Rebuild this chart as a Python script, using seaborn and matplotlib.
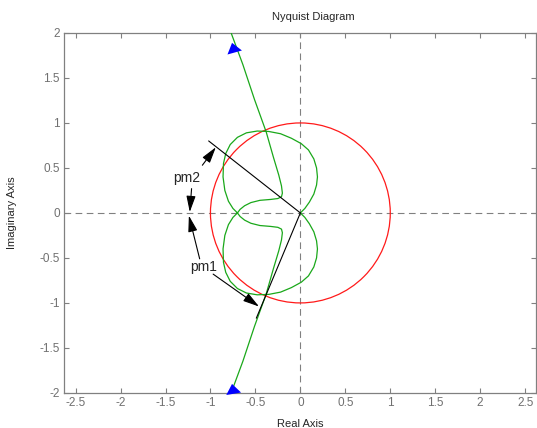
import matplotlib
matplotlib.use("Agg")
import matplotlib.pyplot as plt
from matplotlib.patches import Circle
import seaborn as sns
import pandas as pd

# ---- data ----
# one half of the Nyquist curve (from the top, through the hook and lower lobe, to the origin)
half_re = [-0.80, -0.77, -0.64, -0.51, -0.38, -0.30, -0.24, -0.21, -0.20, -0.21, -0.25,
           -0.33, -0.45, -0.55, -0.62, -0.67, -0.70, -0.75, -0.80, -0.84, -0.86,
           -0.855, -0.83, -0.78, -0.70, -0.60, -0.48, -0.35, -0.22, -0.10, 0.01,
           0.09, 0.15, 0.18, 0.19, 0.18, 0.15, 0.10, 0.05, 0.0]
half_im = [2.10, 2.00, 1.65, 1.26, 0.90, 0.62, 0.42, 0.30, 0.22, 0.18, 0.16,
           0.15, 0.14, 0.115, 0.08, 0.04, 0.0, -0.05, -0.13, -0.25, -0.40,
           -0.55, -0.66, -0.76, -0.84, -0.89, -0.91, -0.905, -0.88, -0.83, -0.77,
           -0.70, -0.60, -0.50, -0.40, -0.31, -0.21, -0.12, -0.05, 0.0]
unit_radius = 1.0
pm1_end = (-0.49, -1.17)
pm2_end = (-1.02, 0.80)
xticks = [-2.5, -2, -1.5, -1, -0.5, 0, 0.5, 1, 1.5, 2, 2.5]
yticks = [-2, -1.5, -1, -0.5, 0, 0.5, 1, 1.5, 2]
xtick_labels = ["-2.5", "-2", "-1.5", "-1", "-0.5", "0", "0.5", "1", "1.5", "2", "2.5"]
ytick_labels = ["-2", "-1.5", "-1", "-0.5", "0", "0.5", "1", "1.5", "2"]

# full curve: the other branch is the complex conjugate
re_full = half_re + half_re[::-1]
im_full = half_im + [-v for v in half_im[::-1]]
curve = pd.DataFrame({"re": re_full, "im": im_full, "order": range(len(re_full))})

sns.set_theme(style="ticks")
plt.rcParams["font.family"] = ["Liberation Sans", "DejaVu Sans"]

fig = plt.figure(figsize=(5.37, 4.28), dpi=100)
ax = fig.add_axes([0.119, 0.082, 0.879, 0.841])

grey = "#808080"
ax.axhline(0, color=grey, ls=(0, (6, 4)), lw=0.8, zorder=1)
ax.axvline(0, color=grey, ls=(0, (6, 4)), lw=0.8, zorder=1)

ax.add_patch(Circle((0, 0), unit_radius, fill=False, ec="#ff1a1a", lw=0.9, zorder=2))

sns.lineplot(data=curve, x="re", y="im", sort=False, estimator=None,
             color="#1aa81a", lw=0.9, ax=ax, zorder=3)

# phase-margin lines
ax.plot([0, pm1_end[0]], [0, pm1_end[1]], color="black", lw=0.8, zorder=4)
ax.plot([0, pm2_end[0]], [0, pm2_end[1]], color="black", lw=0.8, zorder=4)

# blue direction arrows
blue = dict(arrowstyle="-|>,head_length=0.6,head_width=0.45", color="#0000ff", lw=0,
            mutation_scale=12, shrinkA=0, shrinkB=0)
ax.annotate("", xy=(-0.76, 1.89), xytext=(-0.735, 1.80), arrowprops=blue, zorder=5)
ax.annotate("", xy=(-0.76, -1.90), xytext=(-0.745, -1.99), arrowprops=blue, zorder=5)

# pm annotations
black = dict(arrowstyle="-|>,head_length=0.7,head_width=0.2", color="black", lw=0.8,
             mutation_scale=14, shrinkA=0, shrinkB=0)
ax.text(-1.26, 0.39, "pm2", fontsize=10, ha="center", va="center")
ax.annotate("", xy=(-0.94, 0.73), xytext=(-1.09, 0.53), arrowprops=black)
ax.annotate("", xy=(-1.23, 0.01), xytext=(-1.21, 0.27), arrowprops=black)
ax.text(-1.08, -0.60, "pm1", fontsize=10, ha="center", va="center")
ax.annotate("", xy=(-1.24, -0.03), xytext=(-1.12, -0.51), arrowprops=black)
ax.annotate("", xy=(-0.46, -1.04), xytext=(-0.97, -0.68), arrowprops=black)

ax.set_xlim(-2.63, 2.62)
ax.set_ylim(-2, 2)
ax.set_xticks(xticks)
ax.set_xticklabels(xtick_labels)
ax.set_yticks(yticks)
ax.set_yticklabels(ytick_labels)
ax.tick_params(direction="in", length=3.5, width=0.8, color=grey, labelcolor="#707070",
               labelsize=8.5, top=True, right=True, pad=3)
for s in ax.spines.values():
    s.set_color(grey)
    s.set_linewidth(0.9)

ax.set_xlabel("Real Axis", fontsize=8, labelpad=7)
ax.set_ylabel("Imaginary Axis", fontsize=8, labelpad=16)
ax.set_title("Nyquist Diagram", fontsize=8, x=0.528, pad=9)

fig.savefig("out.png", dpi=100)
